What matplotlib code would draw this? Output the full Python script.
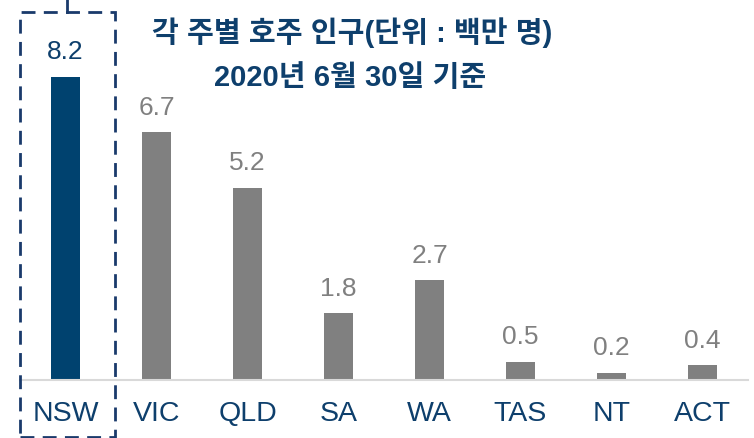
import matplotlib
matplotlib.use("Agg")
import matplotlib.pyplot as plt
from matplotlib.patches import Rectangle
from matplotlib.transforms import blended_transform_factory

states = ["NSW", "VIC", "QLD", "SA", "WA", "TAS", "NT", "ACT"]
population = [8.2, 6.7, 5.2, 1.8, 2.7, 0.5, 0.2, 0.4]
highlight = "NSW"
title_lines = ["각 주별 호주 인구(단위 : 백만 명)", "2020년 6월 30일 기준"]

navy = "#00426F"
text_navy = "#0E3F6C"
gray = "#808080"
fonts = ["Liberation Sans", "Noto Sans CJK KR", "DejaVu Sans"]
plt.rcParams["font.family"] = fonts

fig = plt.figure(figsize=(7.54, 4.38), dpi=100)
ax = fig.add_axes([20 / 754, 58 / 438, 728 / 754, 380 / 438])

x = list(range(len(states)))
colors = [navy if s == highlight else gray for s in states]
bars = ax.bar(x, population, width=0.32, color=colors, zorder=2)

for xi, v, s in zip(x, population, states):
    ax.annotate(f"{v:.1f}", (xi, v), xytext=(0, 9), textcoords="offset points",
                ha="center", va="bottom", fontsize=19,
                color=text_navy if s == highlight else gray)

ax.set_xlim(-0.5, 7.5)
ax.set_ylim(0, 380 / 37)
ax.set_xticks(x)
ax.set_xticklabels(states, fontsize=20.5, color=text_navy)
ax.tick_params(axis="x", length=0, pad=15)
ax.set_yticks([])
for side in ["top", "right", "left"]:
    ax.spines[side].set_visible(False)
ax.spines["bottom"].set_color("#D9D9D9")
ax.spines["bottom"].set_linewidth(1.5)

# dashed highlight box around the first category
trans = blended_transform_factory(ax.transData, ax.transAxes)
hi = states.index(highlight)
box = Rectangle((hi - 0.505, -0.15), 1.045, 0.968 + 0.15, transform=trans,
                fill=False, edgecolor="#1A3A6B", linewidth=2,
                linestyle=(0, (5, 3)), clip_on=False, zorder=3)
ax.add_patch(box)
ax.plot([hi + 0.02, hi + 0.02], [0.968, 1.0], transform=trans, color="#1A3A6B",
        linewidth=2, clip_on=False)

fig.text(352 / 754, 1 - 33 / 438, title_lines[0], ha="center", va="center",
         fontsize=21, fontweight="bold", color=text_navy)
fig.text(350 / 754, 1 - 78 / 438, title_lines[1], ha="center", va="center",
         fontsize=21, fontweight="bold", color=text_navy)

fig.savefig("out.png", dpi=100)
